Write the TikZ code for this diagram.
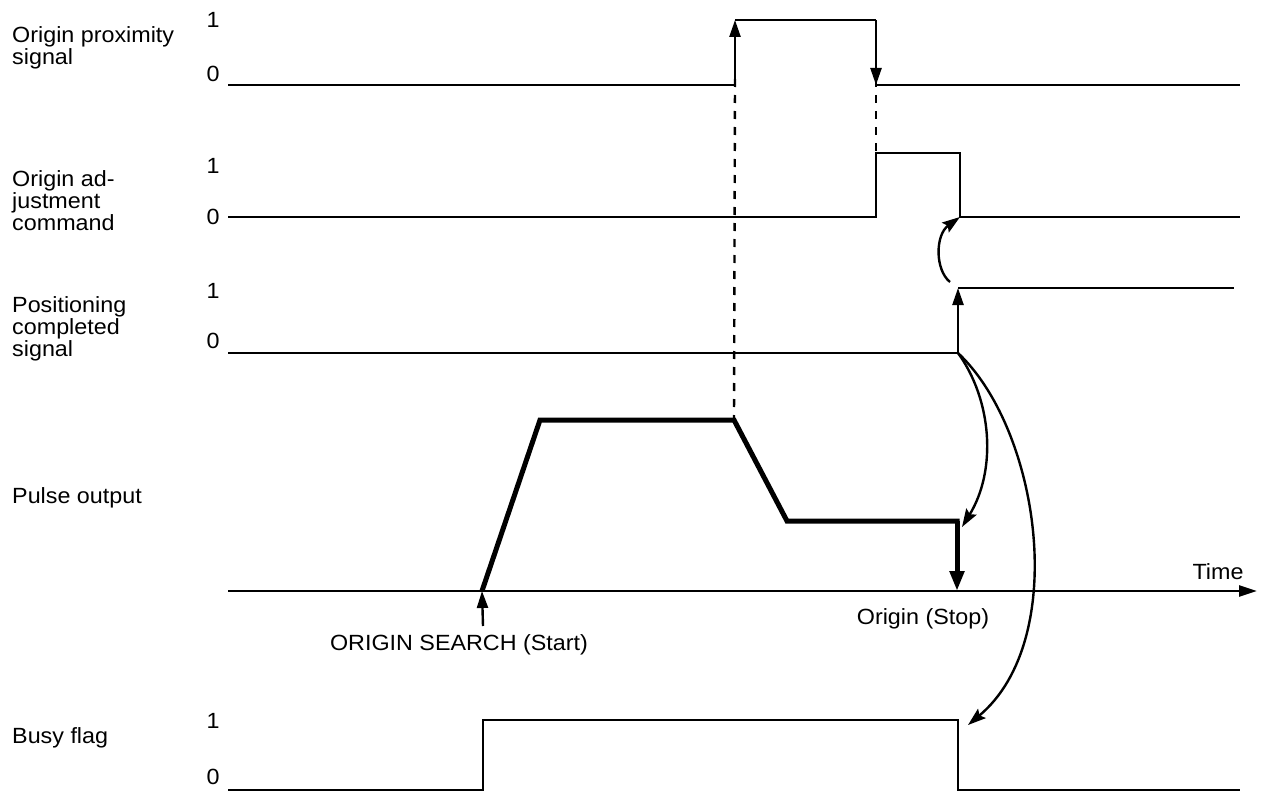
\documentclass[tikz,border=0pt]{standalone}
\usepackage{fontspec}
\setmainfont{Liberation Sans}[FakeStretch=1.06]
\usetikzlibrary{arrows.meta}
\begin{document}
\begin{tikzpicture}[x=1pt,y=-1pt,
  sig/.style={line width=2.4pt, line join=miter},
  pulse/.style={line width=5pt, line join=miter},
  sigtip/.style={-{Triangle[length=17pt,width=11pt]}},
  bigtip/.style={-{Triangle[length=20pt,width=14pt]}},
  axistip/.style={-{Triangle[length=18pt,width=11pt]}},
  curvetip/.style={line width=2.4pt, -{Stealth[length=18pt,width=12pt,inset=3pt]}},
  guide/.style={line width=2.4pt, dash pattern=on 8pt off 8pt},
  lbl/.style={font=\fontsize{22}{22}\selectfont, inner sep=0pt, align=left, anchor=north west},
  txt/.style={font=\fontsize{22}{22}\selectfont, inner sep=0pt}
]
\useasboundingbox (0,0) rectangle (1262,792);

% left labels
\node[lbl] (lprox) at (12,26) {Origin proximity\\signal};
\node[lbl] (ladj) at (12,170) {Origin ad-\\justment\\command};
\node[lbl] (lpos) at (12,296) {Positioning\\completed\\signal};
\node[lbl] (lpulse) at (12,487) {Pulse output};
\node[lbl] (lbusy) at (12,727) {Busy flag};

% level labels
\node[txt] (p1) at (213,19.5) {1};
\node[txt] (p0) at (213,73.5) {0};
\node[txt] (a1) at (213,166) {1};
\node[txt] (a0) at (213,217) {0};
\node[txt] (q1) at (213,291) {1};
\node[txt] (q0) at (213,341) {0};
\node[txt] (b1) at (213,721) {1};
\node[txt] (b0) at (213,777) {0};

% key coordinates
\coordinate (prxS) at (228,85);
\coordinate (prxR0) at (735,85);
\coordinate (prxR1) at (735,20);
\coordinate (prxF1) at (876,20);
\coordinate (prxF0) at (876,85);
\coordinate (prxE) at (1240,85);

\coordinate (adjS) at (228,217);
\coordinate (adjR0) at (876,217);
\coordinate (adjR1) at (876,153);
\coordinate (adjF1) at (960,153);
\coordinate (adjF0) at (960,217);
\coordinate (adjE) at (1240,217);

\coordinate (posS) at (228,353);
\coordinate (posR0) at (958,353);
\coordinate (posR1) at (958,288);
\coordinate (posE) at (1234,288);

\coordinate (axS) at (228,591);
\coordinate (axE) at (1257,591);
\coordinate (puA) at (482,591);
\coordinate (puB) at (540,420);
\coordinate (puC) at (734,420);
\coordinate (puD) at (787,521);
\coordinate (puE) at (957,521);
\coordinate (puF) at (957,591);

\coordinate (bsyS) at (228,790);
\coordinate (bsyR0) at (483,790);
\coordinate (bsyR1) at (483,720);
\coordinate (bsyF1) at (958,720);
\coordinate (bsyF0) at (958,790);
\coordinate (bsyE) at (1240,790);

% origin proximity
\draw[sig] (prxS) -- (prxR0);
\draw[sig,sigtip] (prxR0) -- (prxR1);
\draw[sig] (prxR1) -- (prxF1);
\draw[sig,sigtip] (prxF1) -- (prxF0);
\draw[sig] (prxF0) -- (prxE);

% origin adjustment
\draw[sig] (adjS) -- (adjR0) -- (adjR1) -- (adjF1) -- (adjF0) -- (adjE);

% positioning completed
\draw[sig] (posS) -- (posR0);
\draw[sig,sigtip] (posR0) -- (posR1);
\draw[sig] (posR1) -- (posE);

% time axis and pulse output
\draw[sig,axistip] (axS) -- (axE);
\node[txt] (time) at (1218,572) {Time};
\draw[pulse] (puA) -- (puB) -- (puC) -- (puD) -- (puE) -- ([yshift=-1pt]puE);
\draw[pulse,bigtip] (puE) -- (puF);

% start / stop
\coordinate (stS) at (483,626);
\draw[sig,sigtip] (stS) -- (puA);
\node[txt] (start) at (459,645) {ORIGIN SEARCH (Start)};
\node[txt] (stop) at (923,619) {Origin (Stop)};

% busy flag
\draw[sig] (bsyS) -- (bsyR0) -- (bsyR1) -- (bsyF1) -- (bsyF0) -- (bsyE);

% dashed guides
\draw[guide] ([yshift=6pt]prxR0) -- (puC);
\draw[guide] ([yshift=6pt]prxF0) -- (adjR1);

% curved arrows
\coordinate (c1s) at (950,282);
\draw[curvetip] (c1s) .. controls (935,270) and (935,235) .. (adjF0);
\draw[curvetip] (posR0) .. controls (992,400) and (997,470) .. ([xshift=5pt,yshift=-6pt]puE);
\draw[curvetip] (posR0) .. controls (1040,430) and (1070,640) .. ([xshift=10pt,yshift=-5pt]bsyF1);
\end{tikzpicture}
\end{document}
